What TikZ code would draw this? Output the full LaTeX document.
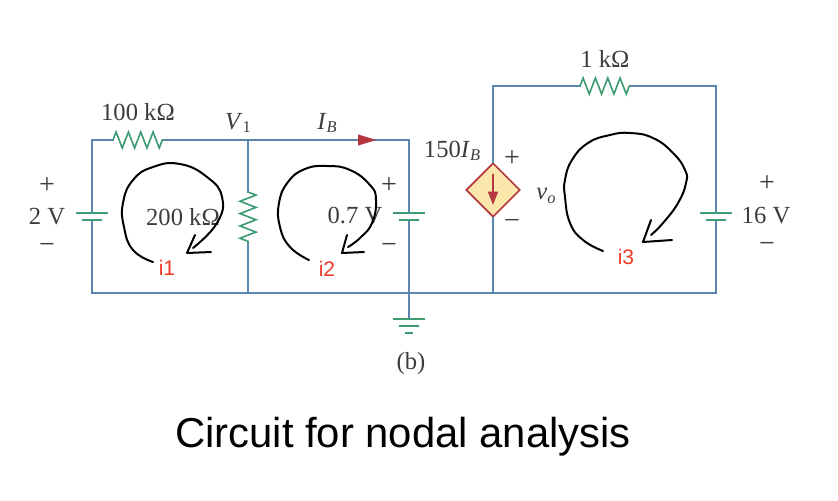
\documentclass[tikz,border=0pt]{standalone}
\usepackage{fontspec}
\setmainfont{Liberation Serif}
\newfontfamily\capfont{Liberation Sans}
\usetikzlibrary{arrows.meta,arrows}
\usetikzlibrary{shapes.geometric}
\usetikzlibrary{decorations.pathmorphing}
\definecolor{wireblue}{HTML}{5C86B0}
\definecolor{partgreen}{HTML}{3F9B72}
\definecolor{srcred}{HTML}{B5363F}
\definecolor{srcfill}{HTML}{FBE7AC}
\definecolor{labelred}{HTML}{F03A28}
\definecolor{labelgray}{HTML}{3C3C3C}
\newcommand{\subsym}[2]{\textit{#1}\raisebox{-0.3ex}{\fontsize{14}{14}\selectfont #2}}
\begin{document}
\begin{tikzpicture}[x=0.03cm,y=-0.03cm,>=stealth',semithick]
 \tikzstyle{wire}=[draw=wireblue,line width=1.6pt,line cap=rect]
 \tikzstyle{plate}=[draw=partgreen,line width=1.6pt]
 \tikzstyle{res}=[draw=partgreen,line width=1.4pt,decorate,decoration={zigzag,segment length=0.37cm,amplitude=0.24cm}]
 \tikzstyle{loopline}=[draw=black,line width=1.7pt,line cap=round,line join=round]
 \tikzset{
 	val label/.style={text=labelgray,font=\fontsize{21}{23}\selectfont,inner sep=0},
 	sign label/.style={text=labelgray,font=\fontsize{24}{26}\selectfont,inner sep=0},
 	loop label/.style={text=labelred,font=\capfont\fontsize{18}{20}\selectfont,inner sep=0},
 	cap label/.style={text=black,font=\capfont\fontsize{35.7}{38}\selectfont,inner sep=0}
 }
 \useasboundingbox (0,0) rectangle (838,500);

 % corners and junctions
 \coordinate (tl) at (92,140);
 \coordinate (bl) at (92,293);
 \coordinate (v1) at (248,140);
 \coordinate (m1) at (248,293);
 \coordinate (tm) at (409,140);
 \coordinate (gn) at (409,293);
 \coordinate (ct) at (493,86);
 \coordinate (cb) at (493,293);
 \coordinate (tr) at (716,86);
 \coordinate (br) at (716,293);

 % resistor ends
 \coordinate (r1a) at (113,140);
 \coordinate (r1b) at (163,140);
 \coordinate (r2a) at (248,192);
 \coordinate (r2b) at (248,242);
 \coordinate (r3a) at (580,86);
 \coordinate (r3b) at (630,86);

 % battery plates
 \coordinate (b1l) at (76,213);
 \coordinate (b1r) at (108,213);
 \coordinate (b1s) at (82,220);
 \coordinate (b1t) at (102,220);
 \coordinate (b1u) at (92,213);
 \coordinate (b1d) at (92,220);
 \coordinate (b2l) at (393,213);
 \coordinate (b2r) at (425,213);
 \coordinate (b2s) at (399,220);
 \coordinate (b2t) at (419,220);
 \coordinate (b2u) at (409,213);
 \coordinate (b2d) at (409,220);
 \coordinate (b3l) at (700,213);
 \coordinate (b3r) at (732,213);
 \coordinate (b3s) at (706,220);
 \coordinate (b3t) at (726,220);
 \coordinate (b3u) at (716,213);
 \coordinate (b3d) at (716,220);

 % ground
 \coordinate (g0) at (409,319);
 \coordinate (g1l) at (393,319);
 \coordinate (g1r) at (425,319);
 \coordinate (g2l) at (399,326);
 \coordinate (g2r) at (419,326);
 \coordinate (g3l) at (405,333);
 \coordinate (g3r) at (413,333);

 \node[diamond,draw=srcred,fill=srcfill,line width=1.4pt,minimum size=1.62cm,inner sep=0] (src) at (493,190) {};

 \draw[wire] (b1u) -- (tl) -- (r1a);
 \draw[wire] (r1b) -- (v1) -- (tm) -- (b2u);
 \draw[wire] (b1d) -- (bl) -- (br) -- (b3d);
 \draw[wire] (v1) -- (r2a);
 \draw[wire] (r2b) -- (m1);
 \draw[wire] (b2d) -- (gn) -- (g0);
 \draw[wire] (src) -- (ct) -- (r3a);
 \draw[wire] (r3b) -- (tr) -- (b3u);
 \draw[wire] (src) -- (cb);

 \draw[res] (r1a) -- (r1b);
 \draw[res] (r2a) -- (r2b);
 \draw[res] (r3a) -- (r3b);

 \draw[plate] (b1l) -- (b1r);
 \draw[plate] (b1s) -- (b1t);
 \draw[plate] (b2l) -- (b2r);
 \draw[plate] (b2s) -- (b2t);
 \draw[plate] (b3l) -- (b3r);
 \draw[plate] (b3s) -- (b3t);
 \draw[plate] (g1l) -- (g1r);
 \draw[plate] (g2l) -- (g2r);
 \draw[plate] (g3l) -- (g3r);

 % red arrows
 \coordinate (iba) at (358,140);
 \coordinate (ibb) at (376,140);
 \draw[draw=srcred,line width=0.2pt,-{Triangle[length=0.54cm,width=0.33cm,fill=srcred]}] (iba) -- (ibb);
 \coordinate (sa) at (493,174);
 \coordinate (sb) at (493,205);
 \draw[draw=srcred,line width=1.6pt,-{Triangle[length=0.4cm,width=0.3cm,fill=srcred]}] (sa) -- (sb);

 % labels
 \node[val label] (l100) at (138,112) {100 kΩ};
 \node[val label] (lv1) at (238,123) {\subsym{V}{1}};
 \node[val label] (lib) at (327,123) {\subsym{I}{\textit{B}}};
 \node[val label] (l150) at (452,151) {150\subsym{I}{\textit{B}}};
 \node[val label] (l2v) at (47,217) {2 V};
 \node[val label] (l200) at (183,217) {200 kΩ};
 \node[val label] (l07) at (355,216) {0.7 V};
 \node[val label] (lvo) at (546,196) {\subsym{v}{\textit{o}}};
 \node[val label] (l1k) at (605,59) {1 kΩ};
 \node[val label] (l16) at (766,216) {16 V};
 \node[val label] (lb) at (411,364) {(b)};
 \node[sign label] (p1) at (47,186) {+};
 \node[sign label] (n1) at (47,248) {−};
 \node[sign label] (p2) at (389,186) {+};
 \node[sign label] (n2) at (389,248) {−};
 \node[sign label] (p3) at (512,159) {+};
 \node[sign label] (n3) at (512,224) {−};
 \node[sign label] (p4) at (767,184) {+};
 \node[sign label] (n4) at (767,247) {−};

 \node[loop label] (i1) at (167,268) {i1};
 \node[loop label] (i2) at (327,269) {i2};
 \node[loop label] (i3) at (626,257) {i3};
 \node[cap label] (cap) at (403,437) {Circuit for nodal analysis};

 % hand drawn loops
 \draw[loopline] plot[smooth,tension=0.8] coordinates {(153,262) (133,250) (124,227) (123,203) (133,180) (153,167) (180,164) (207,177) (222,197) (217,223) (193,248)};
 \draw[loopline] (195,235) -- (187,253) -- (211,252);
 \draw[loopline] plot[smooth,tension=0.8] coordinates {(309,260) (290,247) (280,227) (279,203) (288,182) (305,169) (327,166) (350,170) (370,185) (376,200) (372,223) (360,238) (348,247)};
 \draw[loopline] (347,235) -- (342,253) -- (364,252);
 \draw[loopline] plot[smooth,tension=0.8] coordinates {(603,251) (583,240) (570,223) (565,197) (565,180) (572,160) (588,143) (610,135) (630,133) (653,138) (673,153) (685,170) (686,183) (678,203) (663,223) (651,235)};
 \draw[loopline] (651,220) -- (643,242) -- (672,240);
\end{tikzpicture}
\end{document}
